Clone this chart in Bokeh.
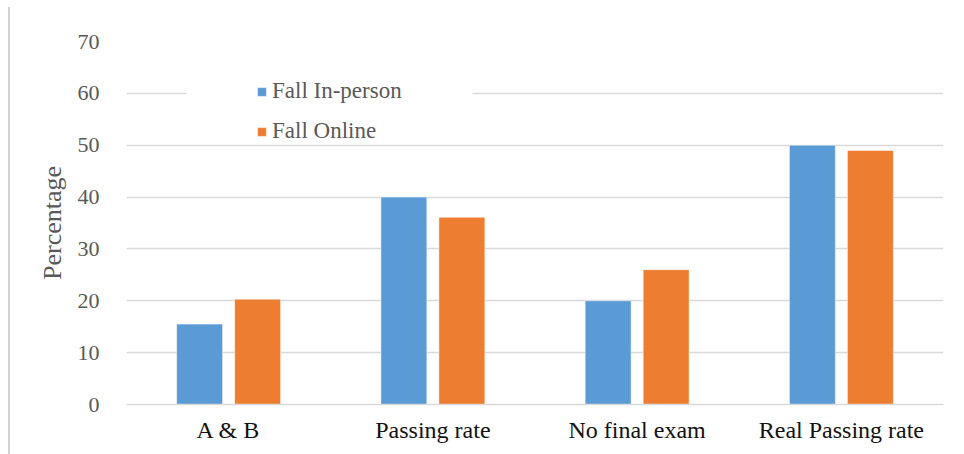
from bokeh.plotting import figure
from bokeh.models import (ColumnDataSource, FactorRange, FixedTicker, Legend, LegendItem,
                          BoxAnnotation)
from bokeh.transform import dodge
from bokeh.embed import file_html
from bokeh.resources import INLINE

categories = ["A & B", "Passing rate", "No final exam", "Real Passing rate"]
in_person = [15.5, 40.0, 20.0, 50.0]
online = [20.3, 36.1, 26.0, 49.0]
series_names = ["Fall In-person", "Fall Online"]
y_ticks = [0, 10, 20, 30, 40, 50, 60, 70]

BLUE = "#5B9BD5"
ORANGE = "#ED7D31"
GRID = "#D9D9D9"
FONT = "'Liberation Serif', serif"

src = ColumnDataSource(dict(cat=categories, a=in_person, b=online))

p = figure(x_range=FactorRange(*categories, range_padding=0), y_range=(0, 70),
           width=956, height=447, output_backend="svg", toolbar_location=None,
           min_border_left=116, min_border_right=23, min_border_top=34, min_border_bottom=50)
p.styles = {"margin-left": "8px", "margin-top": "7px", "border-left": "2px solid #d4d4d4"}
p.outline_line_color = None
p.background_fill_color = "white"

r1 = p.vbar(x=dodge("cat", -0.142, range=p.x_range), top="a", width=0.225, source=src,
            fill_color=BLUE, line_color="white", line_width=0.5)
r2 = p.vbar(x=dodge("cat", 0.142, range=p.x_range), top="b", width=0.225, source=src,
            fill_color=ORANGE, line_color="white", line_width=0.5)

p.xgrid.grid_line_color = None
p.ygrid.grid_line_color = GRID
p.ygrid.grid_line_width = 1.5
p.yaxis.ticker = FixedTicker(ticks=y_ticks)

p.yaxis.axis_line_color = None
p.yaxis.major_tick_line_color = None
p.yaxis.minor_tick_line_color = None
p.yaxis.major_label_standoff = 21
p.yaxis.major_label_text_font = FONT
p.yaxis.major_label_text_font_size = "22px"
p.yaxis.major_label_text_color = "#595959"
p.yaxis.axis_label = "Percentage"
p.yaxis.axis_label_text_font = FONT
p.yaxis.axis_label_text_font_size = "26px"
p.yaxis.axis_label_text_font_style = "normal"
p.yaxis.axis_label_text_color = "#595959"
p.yaxis.axis_label_standoff = 8

p.xaxis.axis_line_color = GRID
p.xaxis.axis_line_width = 1.5
p.xaxis.major_tick_line_color = None
p.xaxis.minor_tick_line_color = None
p.xaxis.major_label_standoff = 6
p.xaxis.major_label_text_font = FONT
p.xaxis.major_label_text_font_size = "24px"
p.xaxis.major_label_text_color = "#111111"

# white box behind the legend (hides grid line)
p.add_layout(BoxAnnotation(left=0.294, right=1.694, bottom=50.5, top=65.5,
                           fill_color="white", fill_alpha=1.0, line_color=None))

legend = Legend(items=[LegendItem(label=series_names[0], renderers=[r1]),
                       LegendItem(label=series_names[1], renderers=[r2])],
                location=(130, 260), orientation="vertical",
                padding=0, margin=0, spacing=14,
                glyph_width=11, glyph_height=11, label_height=23, label_standoff=5,
                label_text_font=FONT, label_text_font_size="23px", label_text_color="#595959",
                background_fill_alpha=0, border_line_color=None)
p.add_layout(legend)

open("out.html", "w").write(file_html(p, INLINE))
